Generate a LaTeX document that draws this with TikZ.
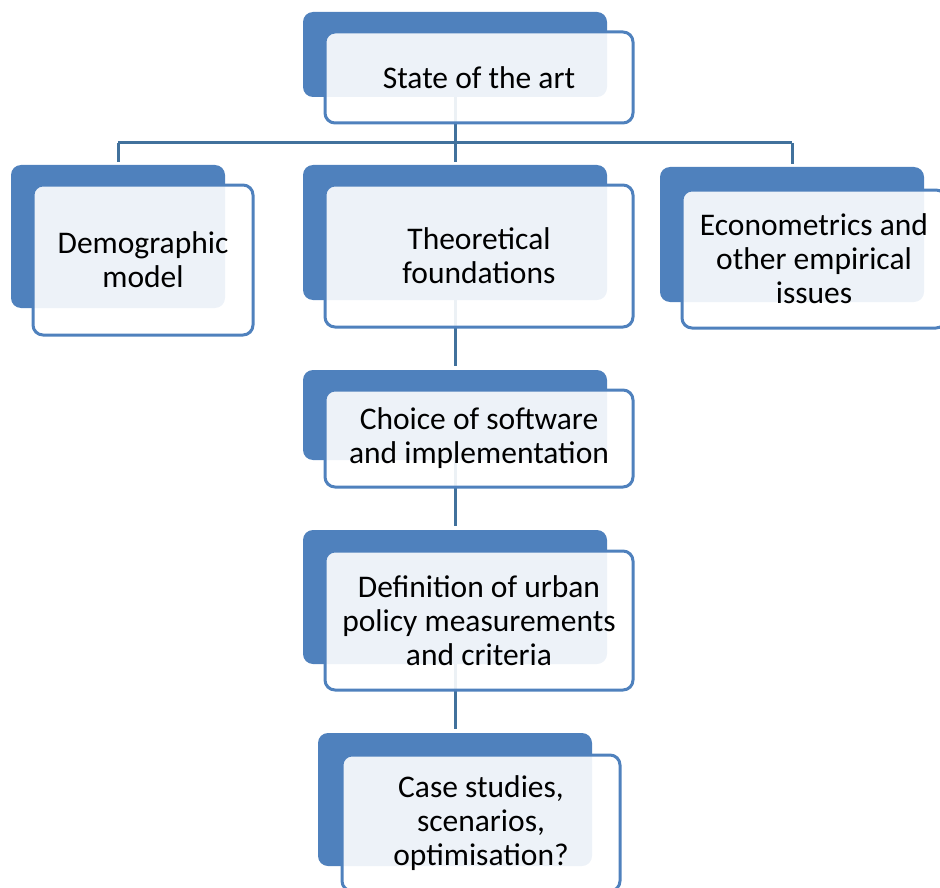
\documentclass[tikz,border=0pt]{standalone}
\usepackage{fontspec}
\setmainfont{Carlito}
\begin{document}
\begin{tikzpicture}[x=1pt,y=-1pt,
  backbox/.style={fill=blueA, rounded corners=10pt, inner sep=0pt, draw=none},
  frontbox/.style={draw=blueA, line width=3pt, fill=white, fill opacity=0.9, text opacity=1, rounded corners=10pt, inner sep=0pt, align=center, font=\fontsize{31.5}{34}\selectfont, text=black},
  conn/.style={draw=blueC, line width=3pt}
]
\definecolor{blueA}{HTML}{4F81BD}
\definecolor{blueC}{HTML}{41719C}
\useasboundingbox (0,0) rectangle (940,888);
\clip (0,0) rectangle (940,888);

% back boxes
\node[backbox, minimum width=304pt, minimum height=85pt] (sb) at (455,54.5) {};
\node[backbox, minimum width=214pt, minimum height=143pt] (dmb) at (118,236.5) {};
\node[backbox, minimum width=304pt, minimum height=135pt] (tfb) at (455,232.5) {};
\node[backbox, minimum width=264pt, minimum height=135pt] (ecb) at (792,234.5) {};
\node[backbox, minimum width=304pt, minimum height=90pt] (chb) at (455,415) {};
\node[backbox, minimum width=304pt, minimum height=134pt] (dfb) at (455,597) {};
\node[backbox, minimum width=274pt, minimum height=133pt] (csb) at (455,799.5) {};

% connectors
\draw[conn] (sb.south) -- (455,143) coordinate (hub);
\draw[conn] (dmb.north |- hub) -- (ecb.north |- hub);
\draw[conn, shorten >=3pt] (dmb.north |- hub) -- (dmb.north);
\draw[conn, shorten >=3pt] (hub) -- (tfb.north);
\draw[conn, shorten >=3pt] (ecb.north |- hub) -- (ecb.north);
\draw[conn, shorten >=4pt] (tfb.south) -- (chb.north);
\draw[conn, shorten >=4pt] (chb.south) -- (dfb.north);
\draw[conn, shorten >=4pt] (dfb.south) -- (csb.north);

% front boxes
\node[frontbox, minimum width=308pt, minimum height=91pt] (s) at (479,77.5) {State of the art};
\node[frontbox, minimum width=220pt, minimum height=150pt] (dm) at (143,260) {Demographic\\model};
\node[frontbox, minimum width=308pt, minimum height=142pt] (tf) at (479,256) {Theoretical\\foundations};
\node[frontbox, minimum width=264pt, minimum height=138pt] (ec) at (814,259) {Econometrics and\\other empirical\\issues};
\node[frontbox, minimum width=308pt, minimum height=97pt] (ch) at (479,438.5) {Choice of software\\and implementation};
\node[frontbox, minimum width=308pt, minimum height=139pt] (df) at (479,620.5) {Definition of urban\\policy measurements\\and criteria};
\node[frontbox, minimum width=278pt, minimum height=136pt] (cs) at (481,823) {Case studies,\\scenarios,\\optimisation?};
\end{tikzpicture}
\end{document}
